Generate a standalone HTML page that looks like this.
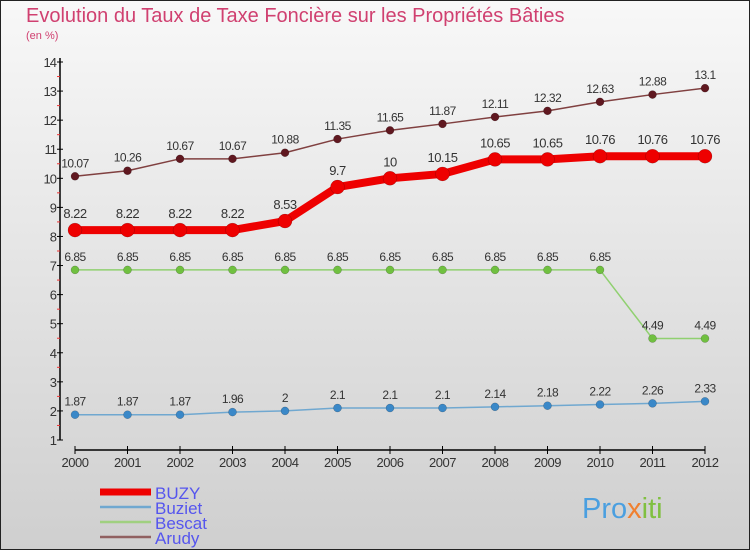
<!DOCTYPE html>
<html><head><meta charset="utf-8"><style>
body{margin:0}
svg{display:block;font-family:"Liberation Sans",sans-serif}
</style></head><body>
<svg id="c" width="750" height="550">
<defs><linearGradient id="bg" x1="0" y1="0" x2="0" y2="1"><stop offset="0" stop-color="#f8f8f8"/><stop offset="1" stop-color="#cfcfcf"/></linearGradient></defs>
<rect x="0.5" y="0.5" width="749" height="549" fill="url(#bg)" stroke="#222"/>
<text x="26" y="22" font-size="20" fill="#d04070">Evolution du Taux de Taxe Foncière sur les Propriétés Bâties</text>
<text x="26" y="39" font-size="11" fill="#d04070">(en %)</text>
<g id="axes"></g><g id="series"></g><g id="legend"></g>
<text x="582" y="518" font-size="29" fill="#4a9fe0">Pro<tspan fill="#f08030">x</tspan><tspan fill="#80c040">iti</tspan></text>
</svg>
<script>
const years=[2000,2001,2002,2003,2004,2005,2006,2007,2008,2009,2010,2011,2012];
const yTicks=[1,2,3,4,5,6,7,8,9,10,11,12,13,14];
const buzy=[8.22,8.22,8.22,8.22,8.53,9.7,10,10.15,10.65,10.65,10.76,10.76,10.76];
const buziet=[1.87,1.87,1.87,1.96,2,2.1,2.1,2.1,2.14,2.18,2.22,2.26,2.33];
const bescat=[6.85,6.85,6.85,6.85,6.85,6.85,6.85,6.85,6.85,6.85,6.85,4.49,4.49];
const arudy=[10.07,10.26,10.67,10.67,10.88,11.35,11.65,11.87,12.11,12.32,12.63,12.88,13.1];
const NS="http://www.w3.org/2000/svg";
function X(i){return 75+i*52.5;}
function Y(v){return 440-(v-1)*(378/13);}
function mk(t,a,p){const e=document.createElementNS(NS,t);for(const k in a)e.setAttribute(k,a[k]);p.appendChild(e);return e;}
const ax=document.getElementById('axes');
let yl=mk('line',{x1:60,y1:58,x2:60,y2:440,stroke:'#000','stroke-width':1.5},ax);


let xl=mk('line',{x1:75,y1:450,x2:705,y2:450,stroke:'#000','stroke-width':1.5},ax);


yTicks.forEach(v=>{
 mk('line',{x1:57,y1:Y(v),x2:63,y2:Y(v),stroke:'#000'},ax);
 if(v<14)mk('line',{x1:57,y1:Y(v+0.5),x2:60,y2:Y(v+0.5),stroke:'#e33'},ax);
 const t=mk('text',{x:56,y:Y(v)+5,'font-size':13,fill:'#333','text-anchor':'end','letter-spacing':'-1'},ax);
 t.textContent=v;
 
 
});
years.forEach((y,i)=>{
 mk('line',{x1:X(i),y1:446,x2:X(i),y2:454,stroke:'#000'},ax);
 const t=mk('text',{x:X(i),y:467,'font-size':13,fill:'#333','text-anchor':'middle','letter-spacing':'-0.5'},ax);
 t.textContent=y;
 
 
});
const sg=document.getElementById('series');
function series(vals,name,col,dot,w,r,fs){
 const g=mk('g',{},sg);
 
 
 mk('polyline',{points:vals.map((v,i)=>X(i)+','+Y(v)).join(' '),fill:'none',stroke:col,'stroke-width':w,'stroke-linejoin':'round'},g);
 vals.forEach((v,i)=>{
  const c=mk('circle',{cx:X(i),cy:Y(v),r:r,fill:dot,stroke:'rgba(0,0,0,0.3)','stroke-width':0.5},g);
  
  
  const t=mk('text',{x:X(i),y:Y(v)-(r+5),'font-size':fs,fill:'#333','text-anchor':'middle','letter-spacing':'-0.5'},g);
  t.textContent=v;
  
  
 });
}
series(arudy,'arudy','#804040','#601820',1.5,4,12);
series(bescat,'bescat','#90d070','#70c040',1.5,4,12);
series(buziet,'buziet','#70a8d0','#3a88c8',1.5,4,12);
series(buzy,'buzy','#ee0000','#ee0000',8,7,13);
const lg=document.getElementById('legend');
[['BUZY','#ee0000',7],['Buziet','#70a8d0',2.5],['Bescat','#a0d080',2.5],['Arudy','#906060',2.5]].forEach((d,i)=>{
 const y=492+i*15;
 const l=mk('line',{x1:100,y1:y,x2:151,y2:y,stroke:d[1],'stroke-width':d[2]},lg);
 
 
 const t=mk('text',{x:155,y:y+7,'font-size':17,fill:'#5555ee'},lg);
 t.textContent=d[0];
 
 
});
</script>
</body></html>
